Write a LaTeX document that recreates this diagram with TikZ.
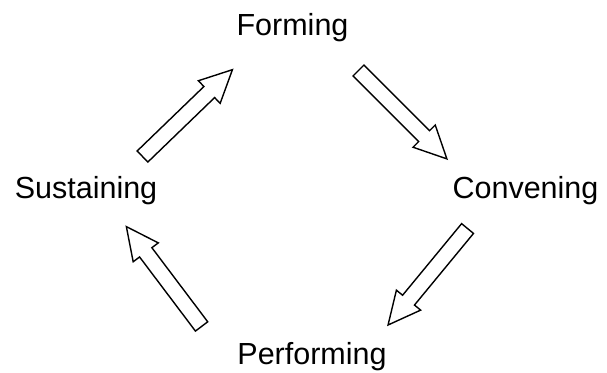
\documentclass[tikz,border=0pt]{standalone}
\usepackage{fontspec}
\setmainfont{Liberation Sans}
\usepackage{tikz}
\usetikzlibrary{shapes.arrows}
\tikzstyle{stage}=[inner sep=0pt,anchor=base,font=\fontsize{30.5}{36}\selectfont]
\tikzstyle{blockarrow}=[draw,single arrow,line width=1.4pt,inner sep=7pt,
  minimum width=31pt,single arrow head extend=8pt,single arrow tip angle=52,
  minimum height=125pt,anchor=tail]

\begin{document}
\begin{tikzpicture}[x=1pt,y=1pt]
      \useasboundingbox (0,0) rectangle (607,372);
      % the four stages
      \node[stage] (forming) at (292.5,336) {Forming};
      \node[stage] (convening) at (525.5,173) {Convening};
      \node[stage] (performing) at (312,8) {Performing};
      \node[stage] (sustaining) at (86,173) {Sustaining};
      % hollow arrows between them, placed by their tails
      \node[blockarrow,rotate=44] (sustoform) at (142,215) {};
      \node[blockarrow,rotate=-45] (formtoconv) at (358,302) {};
      \node[blockarrow,rotate=-129.5] (convtoperf) at (468,144) {};
      \node[blockarrow,rotate=127] (perftosust) at (202,45) {};
    \end{tikzpicture}
\end{document}
